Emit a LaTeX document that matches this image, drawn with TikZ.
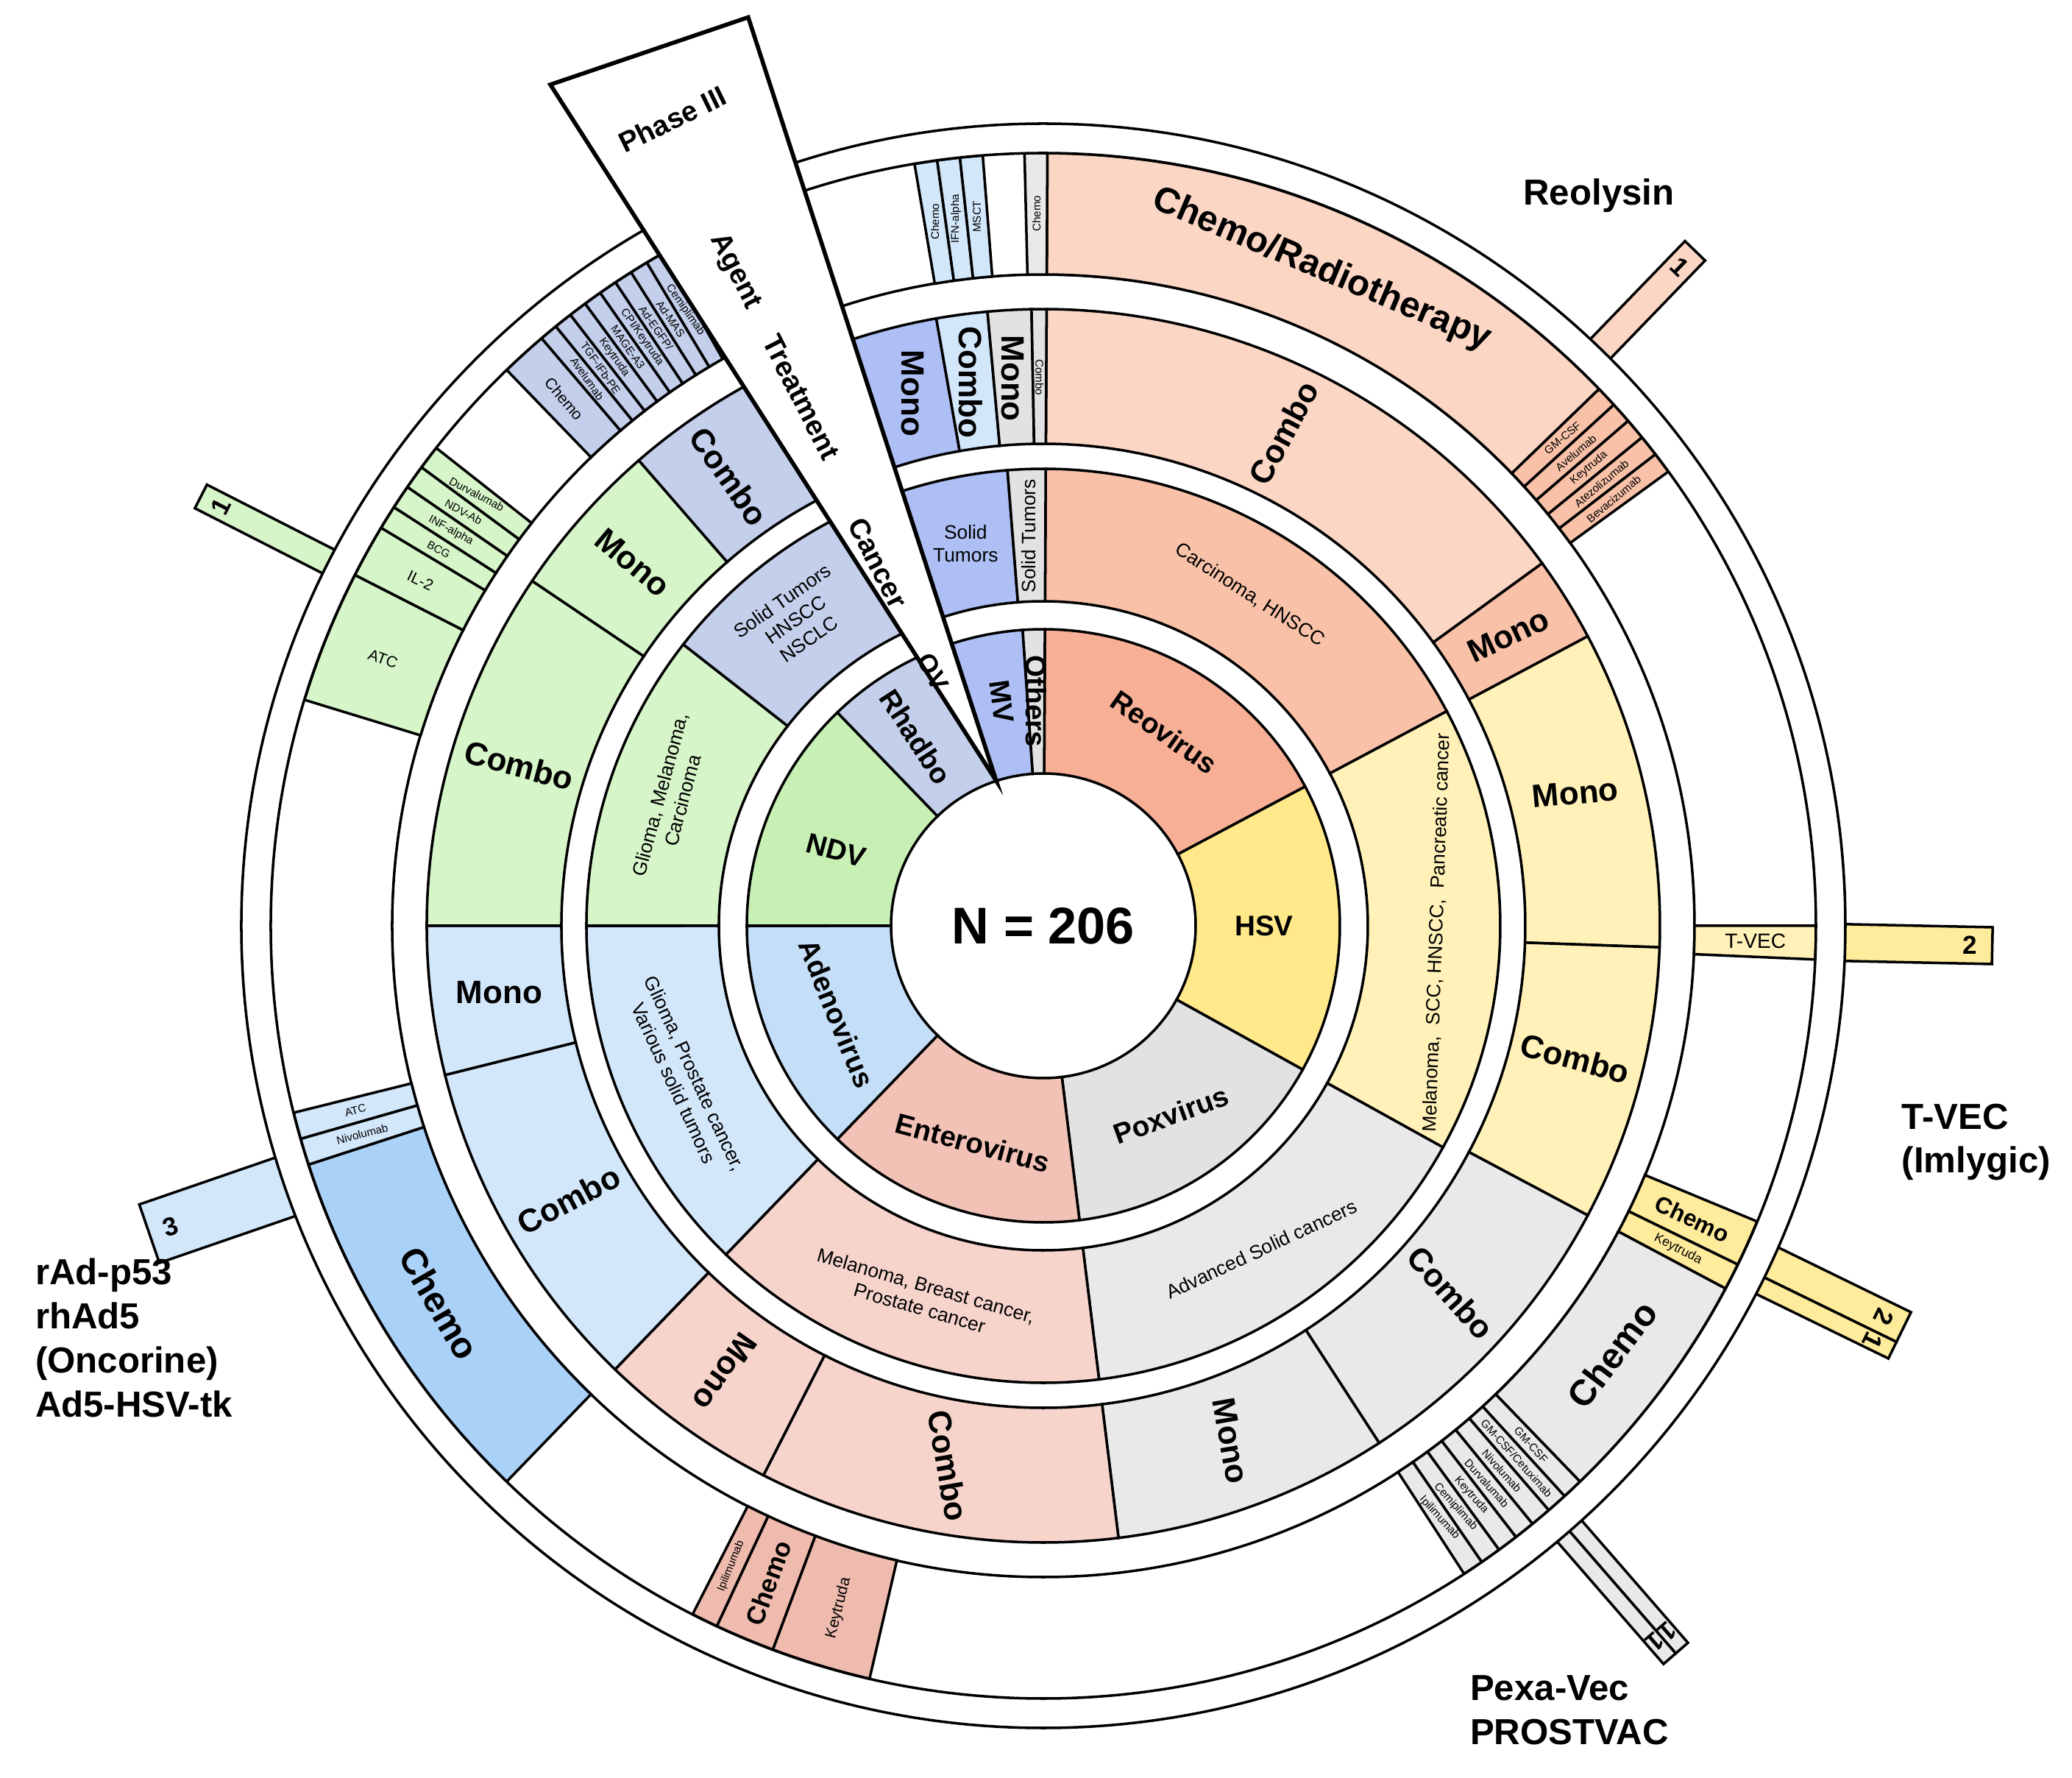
\documentclass[tikz,border=0pt]{standalone}
\usepackage{fontspec}
\setmainfont{Liberation Sans}
\usepackage{tikz}
\definecolor{OrangeA}{HTML}{F7B096}
\definecolor{OrangeB}{HTML}{F9C2A8}
\definecolor{OrangeC}{HTML}{FBD6C4}
\definecolor{YellowA}{HTML}{FFE98A}
\definecolor{YellowB}{HTML}{FFF1B8}
\definecolor{YellowC}{HTML}{FFEB9C}
\definecolor{GrayA}{HTML}{E2E2E2}
\definecolor{GrayB}{HTML}{E9E9E9}
\definecolor{PinkA}{HTML}{F2C2B6}
\definecolor{PinkB}{HTML}{F6D4CC}
\definecolor{PinkC}{HTML}{EFBBAE}
\definecolor{BlueA}{HTML}{C4DEF8}
\definecolor{BlueB}{HTML}{D3E7FB}
\definecolor{BlueC}{HTML}{AAD1F7}
\definecolor{GreenA}{HTML}{C8F0B5}
\definecolor{GreenB}{HTML}{D6F5C8}
\definecolor{BGrayA}{HTML}{C3CFEB}
\definecolor{MVBlue}{HTML}{ADBFF5}
\newcounter{lbl}
\def\RVirIn{2.07}\def\RVirOut{4.03}
\def\RCanIn{4.41}\def\RCanOut{6.21}
\def\RTrtIn{6.55}\def\RTrtOut{8.38}
\def\RAgtIn{8.85}\def\RAgtOut{10.5}
\def\RAgtMid{9.68}
% compass angles: 0 at top, clockwise
\NewDocumentCommand{\DrawSegment}{O{} m m m m m}{%
    \draw[segline, fill=#6, #1] ({90-(#2)}:#4) arc[start angle={90-(#2)}, end angle={90-(#3)}, radius=#4]
        -- ({90-(#3)}:#5) arc[start angle={90-(#3)}, end angle={90-(#2)}, radius=#5] -- cycle;
}
\NewDocumentCommand{\SegLabel}{O{} m m m m}{%
    \stepcounter{lbl}%
    \node[align=center, inner sep=0pt, #1, rotate=#4] (lbl-\arabic{lbl}) at ({90-(#2)}:#3) {#5};
}
\NewDocumentCommand{\DrawSlices}{m m m m m}{%
    \foreach \Name [count=\i] in {#5} {
        \pgfmathsetmacro{\SliceA}{#1+(\i-1)*#2}
        \pgfmathsetmacro{\SliceB}{#1+\i*#2}
        \pgfmathsetmacro{\SliceM}{#1+(\i-0.5)*#2}
        \DrawSegment{\SliceA}{\SliceB}{\RAgtIn}{\RAgtOut}{#3}
        \SegLabel[slab]{\SliceM}{\RAgtMid}{#4}{\Name}
    }
}
\NewDocumentCommand{\DrawBar}{m m m m m m m}{%
    \begin{scope}[rotate={90-(#1)}]
        \draw[segline, fill=#5] (\RAgtOut,#2) rectangle (#4,#3);
        \stepcounter{lbl}%
        \node[blab, rotate=#7] (lbl-\arabic{lbl}) at ({#4-0.3},{(#2+#3)/2}) {#6};
    \end{scope}
}
\tikzset{
    segline/.style={draw=black, line width=1pt},
    vlab/.style={font=\fontsize{11}{12}\selectfont\bfseries},
    clab/.style={font=\fontsize{7.5}{9}\selectfont},
    tlab/.style={font=\fontsize{12.5}{14}\selectfont\bfseries},
    alab/.style={font=\fontsize{14}{16}\selectfont\bfseries},
    slab/.style={font=\fontsize{4.3}{5}\selectfont},
    blab/.style={font=\fontsize{10}{12}\selectfont\bfseries},
    wlab/.style={font=\fontsize{11}{12}\selectfont\bfseries},
    olab/.style={font=\fontsize{14}{17}\selectfont\bfseries, align=left},
}
\begin{document}
\begin{tikzpicture}
    \useasboundingbox (-14.18,-11.58) rectangle (13.98,12.58);

    % Phase III bars
    \DrawBar{44}{-0.19}{0.19}{12.75}{OrangeC}{1}{-44}
    \DrawBar{91.2}{-0.25}{0.25}{12.9}{YellowC}{2}{0}
    \DrawBar{116}{0}{0.45}{12.9}{YellowC}{2}{-116}
    \DrawBar{116}{-0.25}{0}{12.9}{YellowC}{1}{-116}
    \DrawBar{139}{0}{0.22}{13.1}{GrayB}{1}{-139}
    \DrawBar{139}{-0.22}{0}{13.1}{GrayB}{1}{-139}
    \DrawBar{251}{-0.42}{0.42}{12.85}{BlueB}{3}{19}
    \DrawBar{297}{-0.18}{0.18}{12.85}{GreenB}{1}{63}

    % agent ring
    \draw[segline] (0,0) circle (\RAgtIn);
    \DrawSegment{0.3}{46}{\RAgtIn}{\RAgtOut}{OrangeC}
    \SegLabel[alab]{23}{\RAgtMid}{-23}{Chemo/Radiotherapy}
    \DrawSlices{46}{1.6}{OrangeB}{40}{GM-CSF,Avelumab,Keytruda,Atezolizumab,Bevacizumab}
    \DrawSegment{90}{92.5}{\RAgtIn}{\RAgtOut}{YellowB}
    \SegLabel[font=\fontsize{8}{9}\selectfont]{91.25}{\RAgtMid}{0}{T-VEC}
    \DrawSegment{112.5}{116}{\RAgtIn}{\RAgtOut}{YellowC}
    \SegLabel[font=\fontsize{9}{10}\selectfont\bfseries]{114.3}{\RAgtMid}{-25}{Chemo}
    \DrawSegment{116}{118}{\RAgtIn}{\RAgtOut}{YellowC}
    \SegLabel[font=\fontsize{5}{6}\selectfont]{117}{\RAgtMid}{-27}{Keytruda}
    \DrawSegment{118}{136}{\RAgtIn}{\RAgtOut}{GrayB}
    \SegLabel[alab]{127}{\RAgtMid}{53}{Chemo}
    \DrawSlices{136}{1.5714}{GrayB}{-48}{GM-CSF,GM-CSF/Cetuximab,Nivolumab,Durvalumab,Keytruda,Cemiplimab,Ipilimumab}
    \DrawSegment{193}{200.5}{\RAgtIn}{\RAgtOut}{PinkC}
    \SegLabel[font=\fontsize{6}{7}\selectfont]{196.7}{\RAgtMid}{76}{Keytruda}
    \DrawSegment{200.5}{205}{\RAgtIn}{\RAgtOut}{PinkC}
    \SegLabel[font=\fontsize{10}{11}\selectfont\bfseries]{202.7}{\RAgtMid}{70}{Chemo}
    \DrawSegment{205}{207}{\RAgtIn}{\RAgtOut}{PinkC}
    \SegLabel[slab]{206}{\RAgtMid}{68}{Ipilimumab}
    \DrawSegment{224}{252}{\RAgtIn}{\RAgtOut}{BlueC}
    \SegLabel[alab]{238}{\RAgtMid}{-60}{Chemo}
    \DrawSlices{252}{2}{BlueB}{15}{Nivolumab,ATC}
    \DrawSegment{287}{297}{\RAgtIn}{\RAgtOut}{GreenB}
    \SegLabel[font=\fontsize{6}{7}\selectfont]{292}{\RAgtMid}{-20}{ATC}
    \DrawSegment{297}{301}{\RAgtIn}{\RAgtOut}{GreenB}
    \SegLabel[font=\fontsize{6}{7}\selectfont]{299}{\RAgtMid}{-25}{IL-2}
    \DrawSlices{301}{1.8}{GreenB}{-28}{BCG,INF-alpha,NDV-Ab,Durvalumab}
    \DrawSegment{316}{319.5}{\RAgtIn}{\RAgtOut}{BGrayA}
    \SegLabel[font=\fontsize{6}{7}\selectfont]{317.7}{\RAgtMid}{-50}{Chemo}
    \DrawSlices{319.5}{1.375}{BGrayA}{-55}{Avelumab,TGF-IFb-PE,Keytruda,MAGE-A3,CPI/Keytruda,Ad-EGFP/,Ad-MAS,Cemiplimab}
    \DrawSlices{350.4}{1.7}{BlueB}{90}{Chemo,IFN-alpha,MSCT}
    \DrawSegment{358.6}{360.3}{\RAgtIn}{\RAgtOut}{GrayB}
    \SegLabel[slab]{359.45}{\RAgtMid}{90}{Chemo}
    \draw[segline, fill=white, even odd rule] (0,0) circle (10.9) (0,0) circle (\RAgtOut);

    % treatment ring
    \DrawSegment{0.3}{54}{\RTrtIn}{\RTrtOut}{OrangeC}
    \SegLabel[tlab]{26}{7.45}{62}{Combo}
    \DrawSegment{54}{62}{\RTrtIn}{\RTrtOut}{OrangeB}
    \SegLabel[tlab]{58}{7.45}{25}{Mono}
    \DrawSegment{62}{92}{\RTrtIn}{\RTrtOut}{YellowB}
    \SegLabel[tlab]{76}{7.45}{5}{Mono}
    \DrawSegment{92}{118}{\RTrtIn}{\RTrtOut}{YellowB}
    \SegLabel[tlab]{104}{7.45}{-15}{Combo}
    \DrawSegment{118}{147}{\RTrtIn}{\RTrtOut}{GrayB}
    \SegLabel[tlab]{132}{7.45}{-48}{Combo}
    \DrawSegment{147}{173}{\RTrtIn}{\RTrtOut}{GrayB}
    \SegLabel[tlab]{160}{7.45}{-80}{Mono}
    \DrawSegment{173}{207}{\RTrtIn}{\RTrtOut}{PinkB}
    \SegLabel[tlab]{190}{7.45}{-80}{Combo}
    \DrawSegment{207}{224}{\RTrtIn}{\RTrtOut}{PinkB}
    \SegLabel[tlab]{215.5}{7.45}{-125}{Mono}
    \DrawSegment{224}{256}{\RTrtIn}{\RTrtOut}{BlueB}
    \SegLabel[tlab]{240}{7.45}{28}{Combo}
    \DrawSegment{256}{270}{\RTrtIn}{\RTrtOut}{BlueB}
    \SegLabel[tlab]{263}{7.45}{0}{Mono}
    \DrawSegment{270}{304}{\RTrtIn}{\RTrtOut}{GreenB}
    \SegLabel[tlab]{287}{7.45}{-15}{Combo}
    \DrawSegment{304}{319}{\RTrtIn}{\RTrtOut}{GreenB}
    \SegLabel[tlab]{311.5}{7.45}{-40}{Mono}
    \DrawSegment{319}{335}{\RTrtIn}{\RTrtOut}{BGrayA}
    \SegLabel[tlab]{325}{7.45}{-55}{Combo}
    \DrawSegment{335}{342}{\RTrtIn}{\RTrtOut}{BGrayA}
    \DrawSegment{342}{350}{\RTrtIn}{\RTrtOut}{MVBlue}
    \SegLabel[tlab]{346.2}{7.45}{-90}{Mono}
    \DrawSegment{350}{354.8}{\RTrtIn}{\RTrtOut}{BlueB}
    \SegLabel[tlab]{352.4}{7.45}{-90}{Combo}
    \DrawSegment{354.8}{358.9}{\RTrtIn}{\RTrtOut}{GrayA}
    \SegLabel[tlab]{356.8}{7.45}{-90}{Mono}
    \DrawSegment{358.9}{360.3}{\RTrtIn}{\RTrtOut}{GrayA}
    \SegLabel[slab]{359.6}{7.45}{-90}{Combo}

    % cancer ring
    \DrawSegment{0.3}{62}{\RCanIn}{\RCanOut}{OrangeB}
    \SegLabel[clab]{32}{5.3}{-33}{Carcinoma,\ HNSCC}
    \DrawSegment{62}{119}{\RCanIn}{\RCanOut}{YellowB}
    \SegLabel[clab]{91}{5.35}{88}{Melanoma,\ \ SCC, HNSCC,\ \ Pancreatic cancer}
    \DrawSegment{119}{173}{\RCanIn}{\RCanOut}{GrayB}
    \SegLabel[clab]{146}{5.3}{25}{Advanced Solid cancers}
    \DrawSegment{173}{224}{\RCanIn}{\RCanOut}{PinkB}
    \SegLabel[clab]{198}{5.3}{-16}{Melanoma,\ Breast cancer,\\Prostate cancer}
    \DrawSegment{224}{270}{\RCanIn}{\RCanOut}{BlueB}
    \SegLabel[clab]{247}{5.3}{-65}{Glioma,\ Prostate cancer,\\Various solid tumors}
    \DrawSegment{270}{308}{\RCanIn}{\RCanOut}{GreenB}
    \SegLabel[clab]{289}{5.35}{75}{Glioma,\ Melanoma,\\Carcinoma}
    \DrawSegment{308}{342}{\RCanIn}{\RCanOut}{BGrayA}
    \SegLabel[clab]{321}{5.35}{35}{Solid Tumors\\HNSCC\\NSCLC}
    \DrawSegment{342}{355.5}{\RCanIn}{\RCanOut}{MVBlue}
    \SegLabel[clab]{348.5}{5.3}{0}{Solid\\Tumors}
    \DrawSegment{355.5}{360.3}{\RCanIn}{\RCanOut}{GrayA}
    \SegLabel[clab]{357.9}{5.3}{90}{Solid Tumors}

    % virus ring
    \DrawSegment{0.3}{62}{\RVirIn}{\RVirOut}{OrangeA}
    \SegLabel[vlab]{32}{3.1}{-35}{Reovirus}
    \DrawSegment{62}{119}{\RVirIn}{\RVirOut}{YellowA}
    \SegLabel[vlab]{90}{3.0}{0}{HSV}
    \DrawSegment{119}{173}{\RVirIn}{\RVirOut}{GrayA}
    \SegLabel[vlab]{146}{3.1}{20}{Poxvirus}
    \DrawSegment{173}{224}{\RVirIn}{\RVirOut}{PinkA}
    \SegLabel[vlab]{198}{3.1}{-15}{Enterovirus}
    \DrawSegment{224}{270}{\RVirIn}{\RVirOut}{BlueA}
    \SegLabel[vlab]{247}{3.05}{-68}{Adenovirus}
    \DrawSegment{270}{316}{\RVirIn}{\RVirOut}{GreenA}
    \SegLabel[vlab]{290}{3.0}{-15}{NDV}
    \DrawSegment{316}{342}{\RVirIn}{\RVirOut}{BGrayA}
    \SegLabel[vlab]{326}{3.1}{-57}{Rhadbo}
    \DrawSegment{342}{356}{\RVirIn}{\RVirOut}{MVBlue}
    \SegLabel[vlab]{349.5}{3.1}{-82}{MV}
    \DrawSegment{356}{360.3}{\RVirIn}{\RVirOut}{GrayA}
    \SegLabel[vlab]{358.2}{3.05}{-90}{Others}

    \node[font=\fontsize{20}{24}\selectfont\bfseries] (total) at (0,0) {N = 206};

    % legend wedge
    \coordinate (tip) at (108:\RVirIn);
    \coordinate (wedge-left) at (-6.70,11.43);
    \coordinate (wedge-right) at (108:12.98);
    \draw[line width=1.6pt, fill=white] (tip) -- (wedge-left) -- (wedge-right) -- cycle;
    \node[wlab, rotate=26] (phase) at (-5.04,10.96) {Phase III};
    \node[wlab, rotate=-63] (agent) at (-4.19,8.89) {Agent};
    \node[wlab, rotate=-63] (treatment) at (-3.29,7.18) {Treatment};
    \node[wlab, rotate=-63] (cancer) at (-2.25,4.93) {Cancer};
    \node[wlab, rotate=-63, inner sep=0pt, font=\fontsize{10}{11}\selectfont\bfseries] (ov) at (-1.5,3.45) {OV};

    % product names
    \node[olab] (reolysin) at (7.55,9.92) {Reolysin};
    \node[olab] (tvec) at (12.68,-2.94) {T-VEC\\(Imlygic)};
    \node[olab] (pexavec) at (7.15,-10.66) {Pexa-Vec\\PROSTVAC};
    \node[olab] (radp53) at (-12.36,-5.60) {rAd-p53\\rhAd5\\(Oncorine)\\Ad5-HSV-tk};
\end{tikzpicture}
\end{document}
